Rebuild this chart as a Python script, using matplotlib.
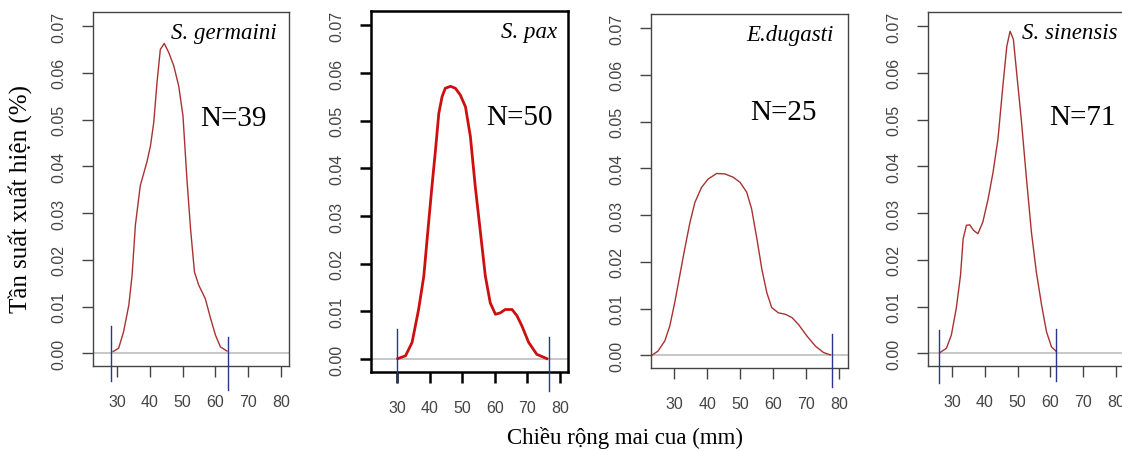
import numpy as np
import matplotlib.pyplot as plt

# density curves (x = carapace width in mm, y = density)
germ_x = [28.8, 30.5, 32.0, 33.6, 34.6, 35.6, 37.1, 39.1, 40.2, 41.2, 42.2, 43.2, 44.4, 45.8, 47.3,
          48.8, 50.1, 51.3, 52.4, 53.6, 54.9, 56.9, 58.5, 60.0, 61.5, 63.5]
germ_y = [0.0004, 0.0011, 0.0046, 0.0103, 0.0167, 0.0274, 0.0359, 0.0409, 0.0444, 0.0494, 0.058, 0.065,
          0.0663, 0.0643, 0.0615, 0.0572, 0.0508, 0.0373, 0.0267, 0.0174, 0.0146, 0.0117, 0.0075, 0.0039,
          0.0014, 0.0005]

pax_x = [30.2, 32.6, 34.6, 36.6, 38.2, 39.4, 40.7, 41.8, 42.8, 43.8, 44.8, 46.4, 47.9, 49.4, 51.0,
         52.5, 54.0, 55.6, 57.1, 58.6, 60.2, 61.7, 63.2, 65.3, 66.8, 68.3, 70.4, 72.9, 76.0]
pax_y = [0.0001, 0.0007, 0.0035, 0.0104, 0.0174, 0.0265, 0.0362, 0.0439, 0.0515, 0.055, 0.0568, 0.0572,
         0.0568, 0.0554, 0.0529, 0.0467, 0.0362, 0.0265, 0.0174, 0.0118, 0.0094, 0.0097, 0.0104, 0.0104,
         0.0091, 0.007, 0.0035, 0.001, 0.0001]

dug_x = [23.2, 25.1, 27.2, 28.7, 30.2, 31.7, 33.2, 34.8, 36.3, 38.3, 40.3, 42.9, 45.4, 47.9, 50.0,
         52.0, 53.5, 55.1, 56.6, 58.1, 59.6, 61.6, 63.7, 65.7, 67.7, 70.3, 72.8, 75.3, 77.4]
dug_y = [0.0, 0.0009, 0.0031, 0.0063, 0.0113, 0.017, 0.0227, 0.0284, 0.0327, 0.0359, 0.0377, 0.0389,
         0.0388, 0.0381, 0.037, 0.0349, 0.0313, 0.0249, 0.0184, 0.0134, 0.0102, 0.0091, 0.0088, 0.0081,
         0.0066, 0.0041, 0.002, 0.0006, 0.0001]

sin_x = [26.4, 28.3, 29.8, 31.3, 32.6, 33.4, 34.4, 35.4, 36.6, 37.9, 39.4, 41.0, 42.5, 44.0, 45.5,
         46.7, 47.7, 48.7, 49.8, 51.1, 52.7, 54.2, 55.7, 57.3, 58.8, 60.3, 61.8]
sin_y = [0.0002, 0.0011, 0.0039, 0.0096, 0.0167, 0.0245, 0.0274, 0.0275, 0.0263, 0.0256, 0.0281, 0.033,
         0.0387, 0.0458, 0.0572, 0.0657, 0.0689, 0.0672, 0.0593, 0.0501, 0.0373, 0.0259, 0.0174, 0.0103,
         0.0046, 0.0014, 0.0004]

species = ['S. germaini', 'S. pax', 'E.dugasti', 'S. sinensis']
n_labels = ['N=39', 'N=50', 'N=25', 'N=71']
# blue marker lines: (x, y bottom, y top)
marks = [[(28.1, -0.0058, 0.0058), (63.9, -0.0079, 0.0036)],
         [(30.0, -0.0048, 0.0063), (76.6, -0.0067, 0.0046)],
         [(77.7, -0.0068, 0.0045)],
         [(26.1, -0.0064, 0.0049), (61.6, -0.006, 0.0053)]]
curves = [(germ_x, germ_y), (pax_x, pax_y), (dug_x, dug_y), (sin_x, sin_y)]

positions = [[0.0829, 0.188, 0.1747, 0.783],
             [0.3307, 0.1748, 0.1756, 0.7987],
             [0.5802, 0.1836, 0.1756, 0.7832],
             [0.8271, 0.188, 0.1747, 0.783]]
xlims = [(22.7, 82.4), (22.0, 82.5), (23.0, 82.7), (22.7, 82.4)]
sp_pos = [(0.935, 'right'), (0.945, 'right'), (0.925, 'right'), (0.48, 'left')]
n_pos = [(0.715, 0.70), (0.751, 0.706), (0.67, 0.723), (0.79, 0.703)]

serif = 'Liberation Serif'
sans = 'Liberation Sans'

fig = plt.figure(figsize=(11.22, 4.52), dpi=100)
for i in range(4):
    ax = fig.add_axes(positions[i])
    bold = (i == 1)
    edge = 'black' if bold else '#444444'
    lw_box = 1.8 if bold else 1.0
    for s in ax.spines.values():
        s.set_color(edge)
        s.set_linewidth(lw_box)
    ax.axhline(0, color='#bdbdbd', linewidth=1.2, zorder=1)
    cx, cy = curves[i]
    ax.plot(cx, cy, color='#cc1010' if bold else '#a83232', linewidth=2.0 if bold else 1.0, zorder=2)
    for (mx, y0, y1) in marks[i]:
        ax.plot([mx, mx], [y0, y1], color='#2a3590', linewidth=1.0, clip_on=False, zorder=3)
    ax.set_xlim(*xlims[i])
    ax.set_ylim(-0.0027, 0.073)
    ax.set_xticks([30, 40, 50, 60, 70, 80])
    ax.set_yticks(np.arange(0, 0.071, 0.01))
    ax.set_yticklabels(['%.2f' % v for v in np.arange(0, 0.071, 0.01)], rotation=90, va='center')
    ax.tick_params(direction='out', length=8, width=lw_box, color=edge, labelsize=11.5,
                   labelcolor='#444444')
    ax.tick_params(axis='x', pad=12)
    ax.tick_params(axis='y', pad=11)
    for lab in ax.get_xticklabels() + ax.get_yticklabels():
        lab.set_family(sans)
    ax.text(sp_pos[i][0], 0.972, species[i], transform=ax.transAxes, ha=sp_pos[i][1], va='top',
            fontsize=16.5, style='italic', family=serif)
    ax.text(n_pos[i][0], n_pos[i][1], n_labels[i], transform=ax.transAxes, ha='center', va='center',
            fontsize=21, family=serif)

fig.text(0.018, 0.56, 'Tần suất xuất hiện (%)', rotation=90, ha='center', va='center',
         fontsize=18, family=serif)
fig.text(0.557, 0.03, 'Chiều rộng mai cua (mm)', ha='center', va='center', fontsize=16.5, family=serif)

plt.savefig('out.png', dpi=100)
